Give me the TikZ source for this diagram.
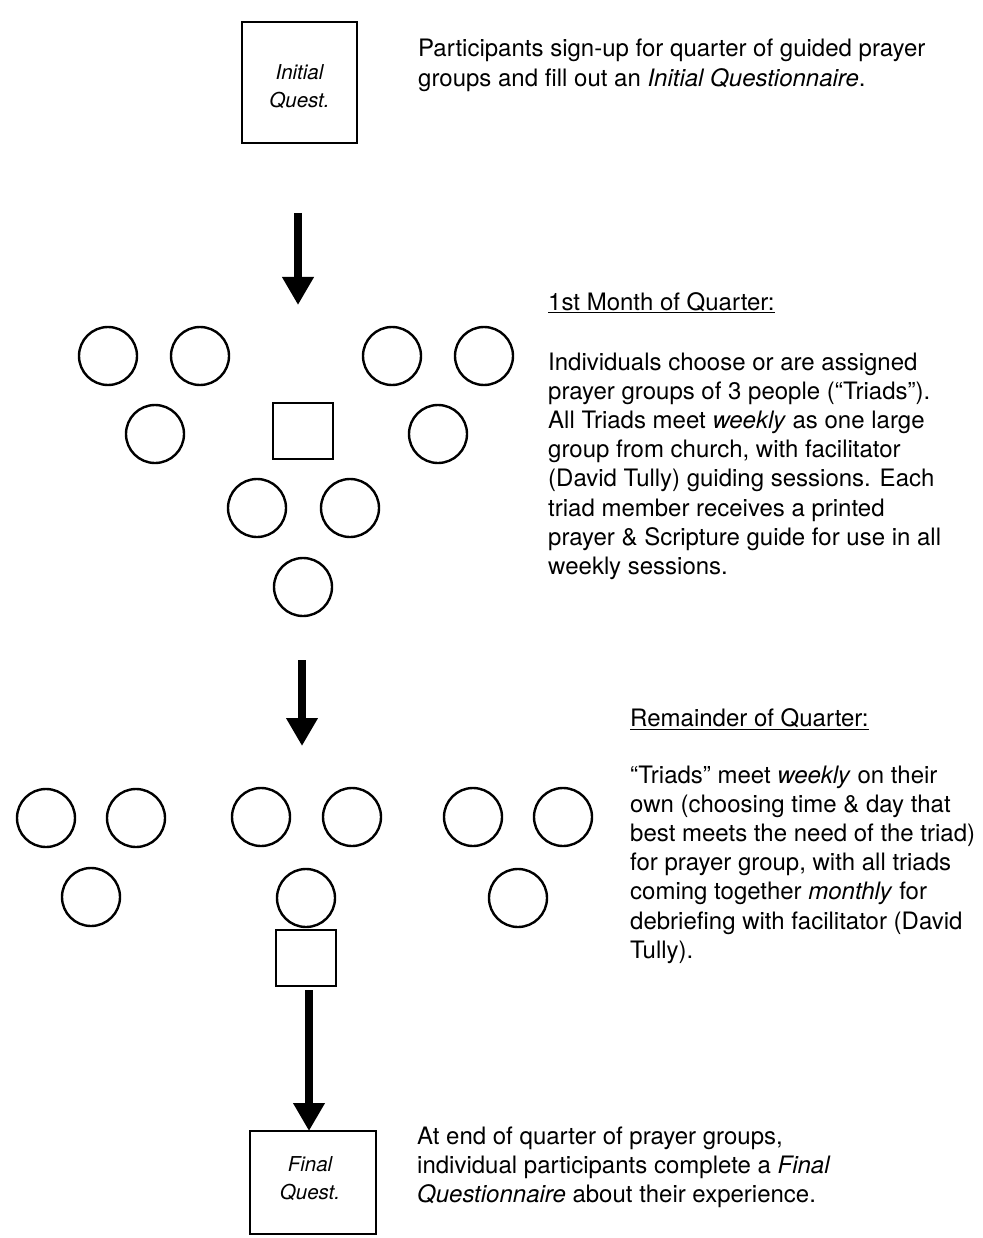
\documentclass[tikz,border=0pt]{standalone}
\usepackage{fontspec}
\setmainfont{TeX Gyre Heros}
\usetikzlibrary{arrows.meta}
\begin{document}
\begin{tikzpicture}[x=1pt,y=-1pt,
  person/.style={draw,circle,line width=2.4pt,minimum size=58pt,inner sep=0pt},
  qbox/.style={draw,line width=2.6pt,inner sep=0pt},
  qlabel/.style={inner sep=0pt,font=\fontsize{20.5}{28}\selectfont\itshape,align=center},
  meetbox/.style={draw,line width=2.6pt,inner sep=0pt,minimum width=60pt,minimum height=56pt},
  flow/.style={line width=8pt,-{Triangle[width=30pt,length=28pt]}},
  body/.style={inner sep=0pt,anchor=base west,align=left,font=\fontsize{24}{29.2}\selectfont}]
\useasboundingbox (0,0) rectangle (982,1238);
% question boxes
\node[qbox,minimum width=115pt,minimum height=121pt] (init) at (299.5,82.5) {};
\node[qlabel] (initlab) at ([yshift=-4pt]init.center) {Initial\\Quest.};
\node[qbox,minimum width=126pt,minimum height=103pt] (final) at (313,1182.5) {};
\node[qlabel] (finallab) at ([xshift=-3pt,yshift=4pt]final.center) {Final\\Quest.};
% texts (anchor = baseline of the last line)
\node[body] (t1) at (418,86.2) {Participants sign-up for quarter of guided prayer\\groups and fill out an \textit{Initial Questionnaire}.};
\node[body] (h2) at (548,310) {\underline{1st Month of Quarter:}};
\node[body] (t2) at (548,574.4) {Individuals choose or are assigned\\prayer groups of 3 people (``Triads'').\\All Triads meet \textit{weekly} as one large\\group from church, with facilitator\\(David Tully) guiding sessions. Each\\triad member receives a printed\\prayer \& Scripture guide for use in all\\weekly sessions.};
\node[body] (h3) at (630,726) {\underline{Remainder of Quarter:}};
\node[body] (t3) at (630,958.2) {``Triads'' meet \textit{weekly} on their\\own (choosing time \& day that\\best meets the need of the triad)\\for prayer group, with all triads\\coming together \textit{monthly} for\\debriefing with facilitator (David\\Tully).};
\node[body] (t4) at (417,1202.4) {At end of quarter of prayer groups,\\individual participants complete a \textit{Final}\\\textit{Questionnaire} about their experience.};
% first month: one large group
\node[person] (c1) at (108,356) {};
\node[person] (c2) at (200,356) {};
\node[person] (c3) at (155,434) {};
\node[person] (c4) at (392,356) {};
\node[person] (c5) at (484,356) {};
\node[person] (c6) at (438,434) {};
\node[meetbox] (m1) at (303,431) {};
\node[person] (c7) at (257,508) {};
\node[person] (c8) at (350,508) {};
\node[person] (c9) at (303,587) {};
% remainder: separate triads
\node[person] (d1) at (46,818) {};
\node[person] (d2) at (136,818) {};
\node[person] (d3) at (91,897) {};
\node[person] (d4) at (261,817) {};
\node[person] (d5) at (352,817) {};
\node[person] (d6) at (306,898) {};
\node[person] (d7) at (473,817) {};
\node[person] (d8) at (563,817) {};
\node[person] (d9) at (518,898) {};
\node[meetbox] (m2) at (306,958) {};
% arrows
\coordinate (a1s) at (298,213);
\coordinate (a1e) at (298,305);
\coordinate (a2s) at (302,660);
\coordinate (a2e) at (302,746);
\coordinate (a3s) at (309,990);
\coordinate (a3e) at (309,1131);
\draw[flow] (a1s) -- (a1e);
\draw[flow] (a2s) -- (a2e);
\draw[flow] (a3s) -- (a3e);
\end{tikzpicture}
\end{document}
